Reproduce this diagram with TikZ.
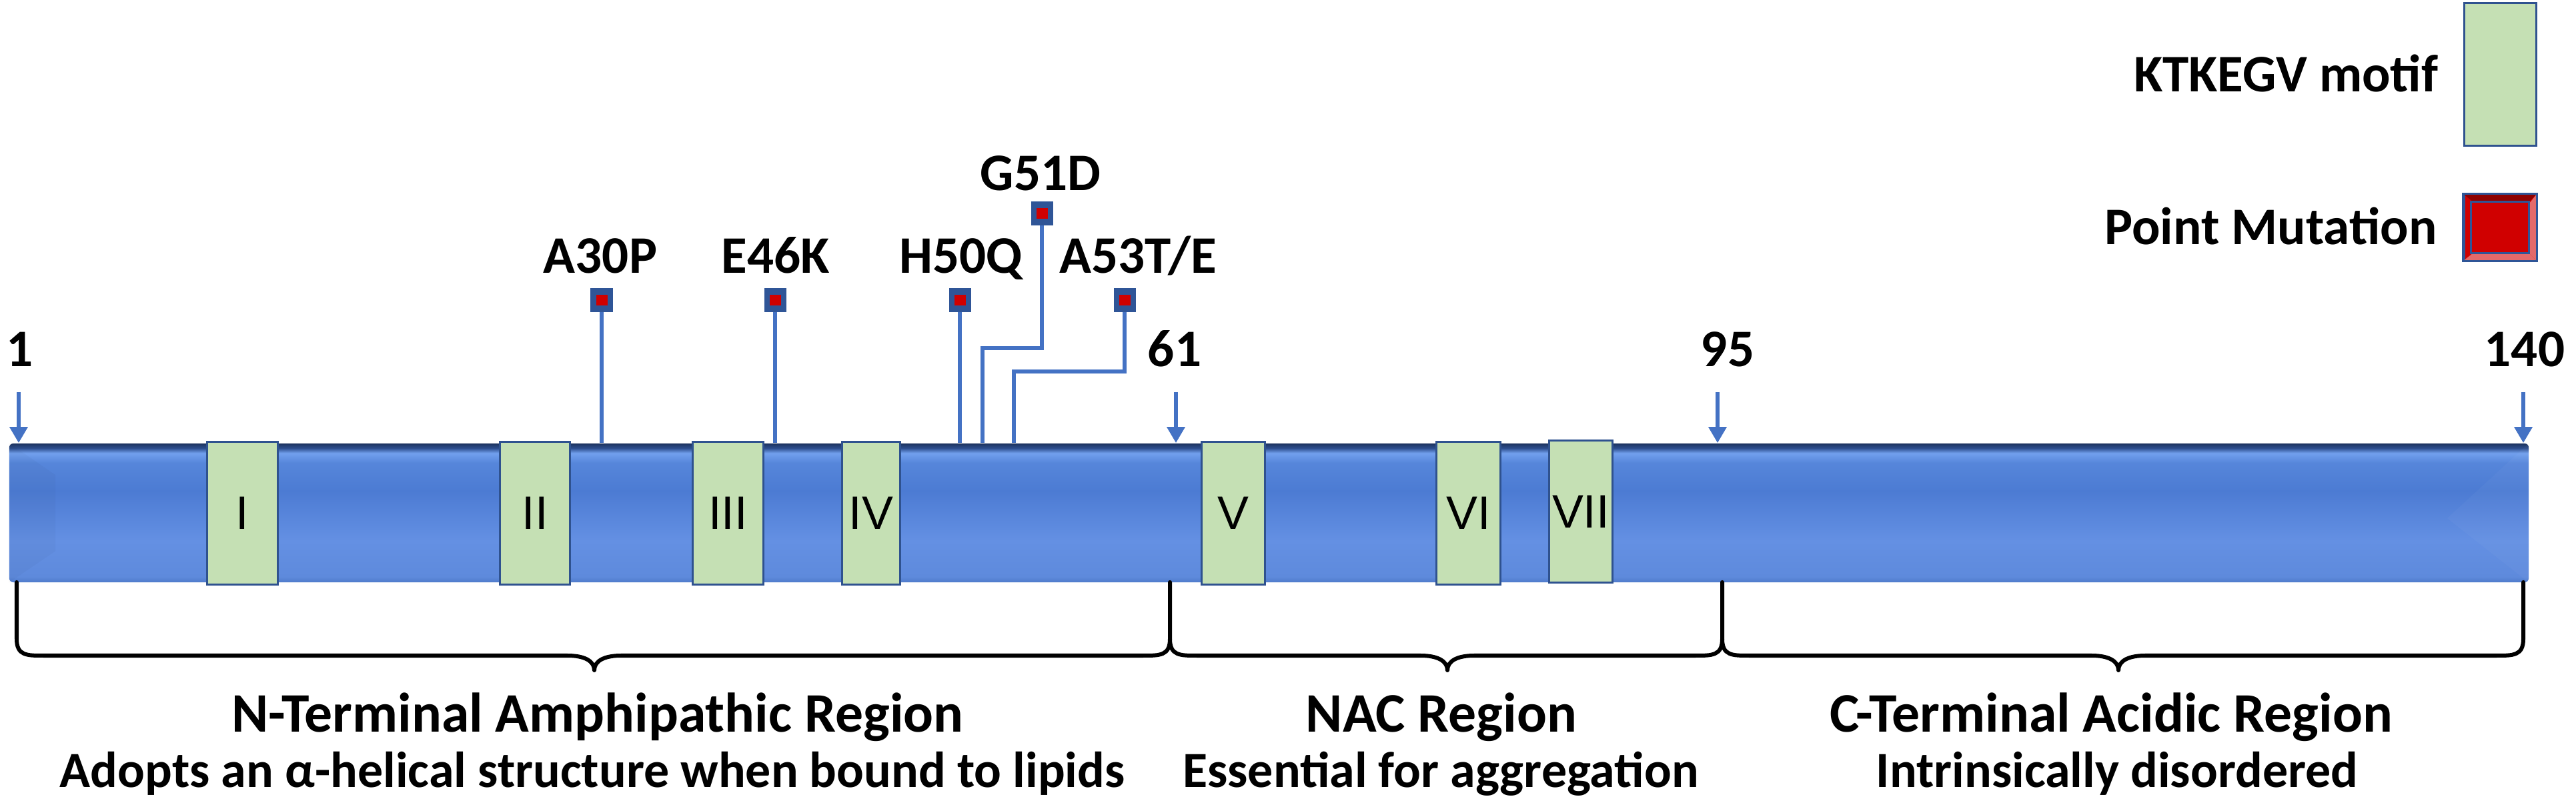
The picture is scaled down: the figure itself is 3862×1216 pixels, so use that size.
\documentclass[tikz,border=0pt]{standalone}
\usepackage{fontspec}
\setmainfont{Carlito}
\newfontfamily\motiffont{Liberation Sans}
\usetikzlibrary{arrows.meta}
\definecolor{motifgreen}{HTML}{C5E0B4}
\definecolor{motifedge}{HTML}{2F528F}
\definecolor{linkblue}{HTML}{4472C4}
\definecolor{mutblue}{HTML}{2F5597}
\definecolor{mutred}{HTML}{D00000}
\definecolor{legdark}{HTML}{8E0000}
\definecolor{leglight}{HTML}{E46A6A}
\definecolor{barBot}{HTML}{4F7BCB}
\definecolor{barLow}{HTML}{5E8ADC}
\definecolor{barMid}{HTML}{6490E3}
\definecolor{barDeep}{HTML}{4C7BD3}
\definecolor{barUp}{HTML}{5686DA}
\definecolor{barHi}{HTML}{72A0EE}
\definecolor{barEdge}{HTML}{2D4E8E}
\definecolor{barTop}{HTML}{1C335F}
\pgfdeclareverticalshading{barshade}{100bp}{color(0bp)=(barBot); color(25bp)=(barBot); color(27bp)=(barLow); color(40bp)=(barMid); color(58bp)=(barDeep); color(68bp)=(barUp); color(71.5bp)=(barHi); color(73.3bp)=(barEdge); color(75bp)=(barTop); color(100bp)=(barTop)}
\tikzset{
  motif/.style={draw=motifedge, line width=0.03cm, fill=motifgreen, minimum height=2.13cm, inner sep=0pt, font=\motiffont\fontsize{20}{20}\selectfont},
  mutsq/.style={fill=mutblue, minimum width=0.33cm, minimum height=0.35cm, inner sep=0pt},
  mutdot/.style={fill=mutred, minimum width=0.17cm, minimum height=0.16cm, inner sep=0pt},
  lbl/.style={font=\fontsize{22.5}{27}\selectfont\bfseries, inner sep=0pt},
  titlelbl/.style={font=\fontsize{23.8}{28}\selectfont\bfseries, inner sep=0pt},
  sublbl/.style={font=\fontsize{21.6}{26}\selectfont\bfseries, inner sep=0pt},
  link/.style={draw=linkblue, line width=0.06cm},
  posarrow/.style={draw=linkblue, fill=linkblue, line width=0.06cm, -{Triangle[width=0.26cm,length=0.24cm]}},
  bracestyle/.style={draw=black, line width=0.06cm, line cap=round, line join=round},
}
\begin{document}
\begin{tikzpicture}[x=0.01cm,y=-0.01cm]
\useasboundingbox (0,0) rectangle (3862,1216);

% main bar
\node[shading=barshade, rounded corners=0.06cm, minimum width=37.75cm, minimum height=2.08cm, inner sep=0pt] (bar) at (1902.5,769) {};
\fill[black, opacity=0.025] (bar.north west) -- ++(70,48) -- ++(0,114) -- (bar.south west) -- cycle;
\fill[white, opacity=0.03] (bar.north east) -- (3669,777) -- (bar.south east) -- cycle;

% motifs
\node[motif, minimum width=1.05cm] (m1) at (363.5,769.5) {I};
\node[motif, minimum width=1.04cm] (m2) at (802,769.5) {II};
\node[motif, minimum width=1.05cm] (m3) at (1091.5,769.5) {III};
\node[motif, minimum width=0.86cm] (m4) at (1306,769.5) {IV};
\node[motif, minimum width=0.94cm] (m5) at (1849,769.5) {V};
\node[motif, minimum width=0.95cm] (m6) at (2201.5,769.5) {VI};
\node[motif, minimum width=0.94cm] (m7) at (2370,767) {VII};

% position numbers and arrows
\node[lbl, anchor=base] (n1) at (30,550) {1};
\node[lbl, anchor=base] (n61) at (1761,550) {61};
\node[lbl, anchor=base] (n95) at (2590,550) {95};
\node[lbl, anchor=base] (n140) at (3785,550) {140};
\coordinate (a1) at (28,588);
\coordinate (a61) at (1763,588);
\coordinate (a95) at (2575,588);
\coordinate (a140) at (3783,588);
\draw[posarrow] (a1) -- (a1 |- bar.north);
\draw[posarrow] (a61) -- (a61 |- bar.north);
\draw[posarrow] (a95) -- (a95 |- bar.north);
\draw[posarrow] (a140) -- (a140 |- bar.north);

% mutations
\node[mutsq] (sqA30P) at (902,450) {};
\node[mutsq] (sqE46K) at (1162,450) {};
\node[mutsq] (sqH50Q) at (1439,450) {};
\node[mutsq] (sqG51D) at (1562,320) {};
\node[mutsq] (sqA53T) at (1686,450) {};
\node[mutdot] (dA30P) at (sqA30P) {};
\node[mutdot] (dE46K) at (sqE46K) {};
\node[mutdot] (dH50Q) at (sqH50Q) {};
\node[mutdot] (dG51D) at (sqG51D) {};
\node[mutdot] (dA53T) at (sqA53T) {};
\node[lbl, anchor=base] (tA30P) at (900,410) {A30P};
\node[lbl, anchor=base] (tE46K) at (1163,410) {E46K};
\node[lbl, anchor=base] (tH50Q) at (1441,410) {H50Q};
\node[lbl, anchor=base] (tG51D) at (1560,286) {G51D};
\node[lbl, anchor=base] (tA53T) at (1706,410) {A53T/E};
\coordinate (kG51D) at (1473,522);
\coordinate (kA53T) at (1520,557);
\draw[link] (sqA30P.south) -- (sqA30P.south |- bar.north);
\draw[link] (sqE46K.south) -- (sqE46K.south |- bar.north);
\draw[link] (sqH50Q.south) -- (sqH50Q.south |- bar.north);
\draw[link] (sqG51D.south) |- (kG51D) -- (kG51D |- bar.north);
\draw[link] (sqA53T.south) |- (kA53T) -- (kA53T |- bar.north);

% braces
\coordinate (bN) at (25,873);
\coordinate (b61) at (1754,873);
\coordinate (b95) at (2582,873);
\coordinate (bC) at (3783,873);
\draw[bracestyle] (bN) -- ++(0,85) .. controls +(0,25) and +(-25,0) .. ++(40,25)
  -- (851,983) .. controls +(25,0) and +(0,-14) .. (891,1005)
  .. controls +(0,-14) and +(-25,0) .. (931,983)
  -- (1714,983) .. controls +(25,0) and +(0,25) .. (1754,958);
\draw[bracestyle] (b61) -- ++(0,85) .. controls +(0,25) and +(-25,0) .. ++(40,25)
  -- (2130,983) .. controls +(25,0) and +(0,-14) .. (2170,1005)
  .. controls +(0,-14) and +(-25,0) .. (2210,983)
  -- (2542,983) .. controls +(25,0) and +(0,25) .. (2582,958);
\draw[bracestyle] (b95) -- ++(0,85) .. controls +(0,25) and +(-25,0) .. ++(40,25)
  -- (3136,983) .. controls +(25,0) and +(0,-14) .. (3176,1005)
  .. controls +(0,-14) and +(-25,0) .. (3216,983)
  -- (3743,983) .. controls +(25,0) and +(0,25) .. (3783,958) -- (bC);

% region labels
\node[titlelbl, anchor=base] (tN) at (896,1097) {N-Terminal Amphipathic Region};
\node[sublbl, anchor=base] (sN) at (888,1180) {Adopts an α-helical structure when bound to lipids};
\node[titlelbl, anchor=base] (tNAC) at (2161,1097) {NAC Region};
\node[sublbl, anchor=base] (sNAC) at (2160,1180) {Essential for aggregation};
\node[titlelbl, anchor=base] (tC) at (3165,1097) {C-Terminal Acidic Region};
\node[sublbl, anchor=base] (sC) at (3174,1180) {Intrinsically disordered};

% legend
\node[draw=motifedge, line width=0.03cm, fill=motifgreen, minimum width=1.08cm, minimum height=2.13cm, inner sep=0pt] (legM) at (3748,111.5) {};
\node[lbl, anchor=base east] (tlegM) at (3656,138) {KTKEGV motif};
\node[fill=mutred, draw=mutblue, line width=0.03cm, minimum width=1.08cm, minimum height=0.98cm, inner sep=0pt] (legP) at (3748,341) {};
\fill[legdark] (legP.north west) -- (legP.north east) -- ++(-12,12) -- ++(-84,0) -- cycle;
\fill[leglight] (legP.north east) -- (legP.south east) -- ++(-12,-12) -- ++(0,-74) -- cycle;
\fill[leglight] (legP.south west) -- (legP.south east) -- ++(-12,-12) -- ++(-84,0) -- cycle;
\draw[mutblue, line width=0.03cm] ([shift={(12,12)}]legP.north west) rectangle ([shift={(-12,-12)}]legP.south east);
\draw[mutblue, line width=0.03cm] (legP.north west) rectangle (legP.south east);
\node[lbl, anchor=base east] (tlegP) at (3654,367) {Point Mutation};
\end{tikzpicture}
\end{document}
